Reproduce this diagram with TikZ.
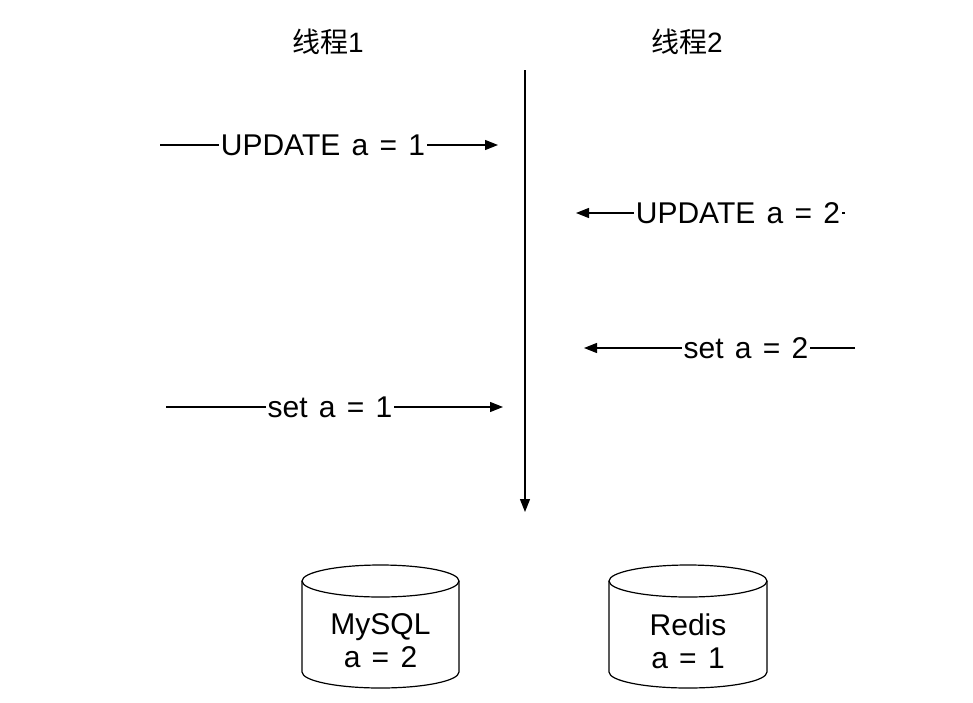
\documentclass[tikz,border=0pt]{standalone}
\usepackage{fontspec}
\setmainfont{Liberation Sans}
\newfontfamily\cjk{Noto Sans CJK SC}
\usetikzlibrary{arrows.meta}
\newcommand\widesp{\spaceskip=11.3pt plus 1pt minus 1pt\relax}
\begin{document}
\begin{tikzpicture}[x=1pt,y=-1pt,
  every node/.style={inner sep=0pt},
  title/.style={font=\fontsize{28}{32}\selectfont},
  flow/.style={line width=1.2pt, -{Triangle[length=13pt,width=10pt]}},
  lbl/.style={fill=white, inner xsep=2pt, inner ysep=1pt, font=\fontsize{30}{34}\selectfont\widesp},
  dbshape/.style={line width=1.2pt, fill=white},
  dbtext/.style={align=center, font=\fontsize{30}{33}\selectfont\widesp}]
\useasboundingbox (0,0) rectangle (973,702);
% titles
\node[title] (t1) at (328,42) {{\cjk 线程}1};
\node[title] (t2) at (687,42) {{\cjk 线程}2};
% timeline
\coordinate (top) at (525,70);
\coordinate (bot) at (525,512);
\draw[flow] (top) -- (bot);
% arrows
\coordinate (a1s) at (160,145); \coordinate (a1e) at (498,145);
\draw[flow] (a1s) -- (a1e);
\node[lbl] (l1) at (323,145) {UPDATE a = 1};
\coordinate (a2s) at (845,213); \coordinate (a2e) at (576,213);
\draw[flow] (a2s) -- (a2e);
\node[lbl] (l2) at (738,213) {UPDATE a = 2};
\coordinate (a3s) at (855,348); \coordinate (a3e) at (584,348);
\draw[flow] (a3s) -- (a3e);
\node[lbl] (l3) at (746,348) {set a = 2};
\coordinate (a4s) at (166,407); \coordinate (a4e) at (503,407);
\draw[flow] (a4s) -- (a4e);
\node[lbl] (l4) at (330,407) {set a = 1};
% cylinders
\draw[dbshape] (302,581) -- (302,672) arc[start angle=180,end angle=0,x radius=78.5,y radius=16] -- (459,581);
\draw[dbshape] (380.5,581) ellipse[x radius=78.5,y radius=16];
\node[dbtext] (db1) at (380.5,641) {MySQL\\a = 2};
\draw[dbshape] (609,581) -- (609,672) arc[start angle=180,end angle=0,x radius=79,y radius=16] -- (767,581);
\draw[dbshape] (688,581) ellipse[x radius=79,y radius=16];
\node[dbtext] (db2) at (688,641) {Redis\\a = 1};
\end{tikzpicture}
\end{document}
